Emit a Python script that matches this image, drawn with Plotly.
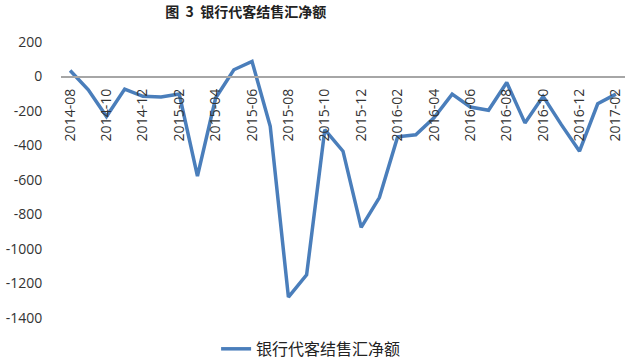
import plotly.graph_objects as go

months = ["2014-08","2014-09","2014-10","2014-11","2014-12","2015-01","2015-02","2015-03",
          "2015-04","2015-05","2015-06","2015-07","2015-08","2015-09","2015-10","2015-11",
          "2015-12","2016-01","2016-02","2016-03","2016-04","2016-05","2016-06","2016-07",
          "2016-08","2016-09","2016-10","2016-11","2016-12","2017-01","2017-02"]
net_settlement = [35, -77, -232, -73, -115, -119, -102, -577,
                  -125, 39, 87, -289, -1279, -1150, -308, -433,
                  -875, -702, -350, -338, -240, -102, -177, -196,
                  -35, -269, -115, -279, -433, -158, -102]
series_name = "银行代客结售汇净额"
title_text = "图 3 银行代客结售汇净额"
y_ticks = [200, 0, -200, -400, -600, -800, -1000, -1200, -1400]

font_family = "Open Sans, Noto Sans CJK SC"

fig = go.Figure()
fig.add_trace(go.Scatter(
    x=months, y=net_settlement, mode="lines", name=series_name,
    line=dict(color="#4a7ebb", width=3.5),
))

fig.update_layout(
    width=630, height=362,
    margin=dict(l=61, r=5, t=42, b=44, autoexpand=False),
    paper_bgcolor="white", plot_bgcolor="white",
    font=dict(family=font_family, color="#333333", size=14),
    title=dict(text=title_text.replace(" ", "&nbsp;&nbsp;"), x=0.39, xanchor="center",
               xref="container", y=1 - 12/362, yref="container", yanchor="middle",
               font=dict(size=14, family="Noto Sans CJK SC", color="#222222",
                         weight=600)),
    showlegend=True,
    legend=dict(orientation="h", x=0.275, xanchor="left", y=-0.112, yanchor="middle",
                font=dict(size=16, family="Noto Sans CJK SC", color="#222222"),
                bgcolor="rgba(0,0,0,0)"),
)
fig.update_xaxes(
    type="category", tickvals=months[::2], ticktext=months[::2],
    tickangle=-90, anchor="free", position=0.875,
    showline=True, linecolor="#a6a6a6", linewidth=1.5,
    ticks="outside", ticklen=6, tickcolor="rgba(0,0,0,0)",
    showgrid=False, zeroline=False,
    tickfont=dict(size=14, family=font_family, color="#333333"),
    range=[-0.5, len(months) - 0.5],
)
fig.update_yaxes(
    range=[-1400, 200], tickvals=y_ticks, ticktext=[str(v) for v in y_ticks],
    showgrid=False, zeroline=False, showline=False,
    ticks="outside", ticklen=15, tickcolor="rgba(0,0,0,0)",
    tickfont=dict(size=14, family=font_family, color="#333333"),
)

fig.write_html("out.html")
